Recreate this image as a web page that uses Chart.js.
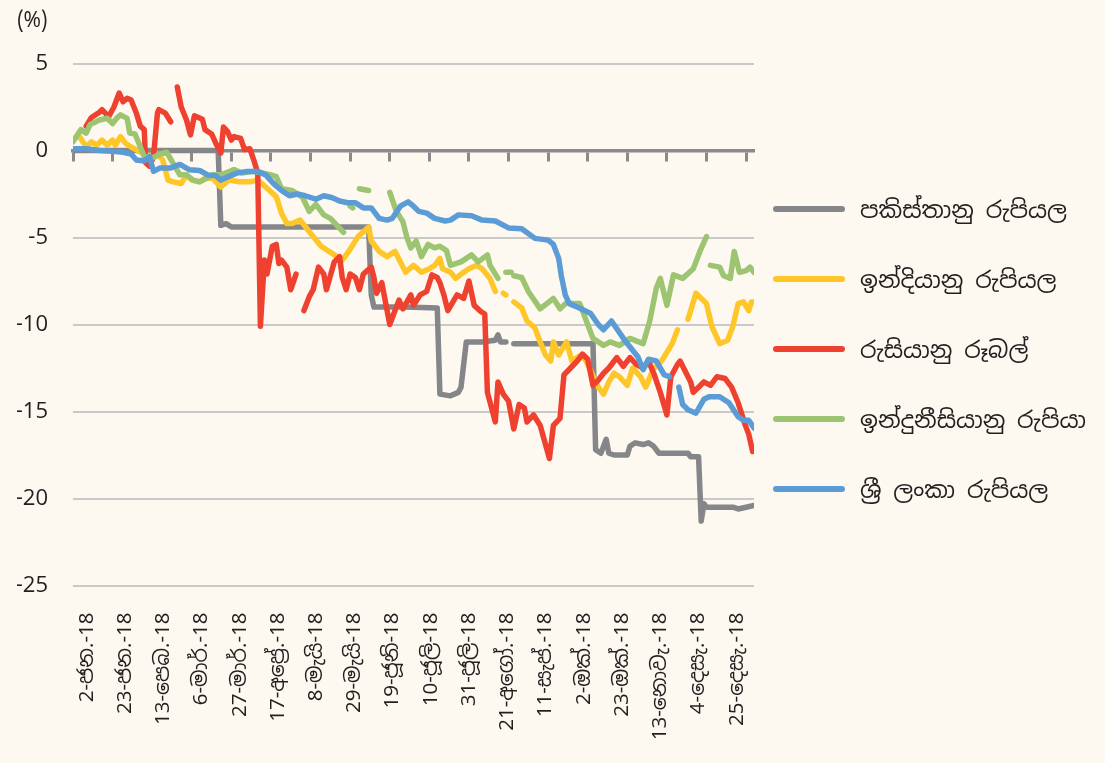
<!DOCTYPE html>
<html>
<head>
<meta charset="utf-8">
<script src="https://cdn.jsdelivr.net/npm/chart.js@4.4.1/dist/chart.umd.min.js"></script>
<style>
  body { margin: 0; background: #fdf9f1; }
  #wrap { position: relative; width: 1105px; height: 763px; background: #fdf9f1; }
  #legend { position: absolute; left: 773px; top: 174px; }
  .item { display: flex; align-items: center; height: 70px; font-size: 23.5px; font-family: "Noto Sans Sinhala", "Noto Sans", sans-serif; color: #231f20; white-space: nowrap; }
  .swatch { width: 72px; height: 6px; border-radius: 3px; margin-right: 15px; }
</style>
</head>
<body>
<div id="wrap"><canvas id="chart"></canvas><div id="legend"></div></div>
<script>
// x = business day index from 2 Jan 2018, y = % change
const tickDays = [0, 15, 30, 45, 60, 75, 90, 105, 120, 135, 150, 165, 180, 195, 210, 225, 240, 255];
const tickLabels = ['2-ජන.-18', '23-ජන.-18', '13-පෙබ.-18', '6-මාර්.-18', '27-මාර්.-18', '17-අප්‍රේ.-18',
  '8-මැයි-18', '29-මැයි-18', '19-ජූනි-18', '10-ජූලි-18', '31-ජූලි-18', '21-අගෝ.-18',
  '11-සැප්.-18', '2-ඔක්.-18', '23-ඔක්.-18', '13-නොවැ.-18', '4-දෙසැ.-18', '25-දෙසැ.-18'];

const seriesNames = ['පකිස්තානු රුපියල', 'ඉන්දියානු රුපියල', 'රුසියානු රූබල්', 'ඉන්දුනීසියානු රුපියා', 'ශ්‍රී ලංකා රුපියල'];

const pkr = [[0,0],[55,0],[56,-4.3],[58,-4.2],[60,-4.4],[80,-4.4],[100,-4.4],[112,-4.4],[113,-8.3],[114,-9.0],[126,-9.0],
  [138,-9.05],[139,-14.0],[143,-14.1],[146,-13.9],[147,-13.6],[149,-11.0],[155,-11.0],[160,-10.9],[161,-10.6],[162,-11.0],
  [164,-11.0],[165,null],[167,-11.1],[180,-11.1],[197,-11.1],[198,-17.2],[200,-17.4],[202,-16.6],[203,-17.4],[205,-17.5],
  [210,-17.5],[211,-17.0],[213,-16.8],[216,-16.9],[218,-16.8],[220,-17.0],[222,-17.4],[233,-17.4],[234,-17.6],[237,-17.6],
  [238,-21.3],[239,-20.3],[240,-20.5],[250,-20.5],[252,-20.6],[255,-20.5],[258,-20.4]];

const inr = [[0,0.6],[2,0.9],[5,0.2],[7,0.5],[9,0.3],[11,0.6],[13,0.3],[15,0.6],[16,0.3],[18,0.8],[20,0.4],[22,0.2],
  [25,-0.05],[29,-0.3],[32,-0.2],[34,-0.55],[36,-1.7],[38,-1.8],[41,-1.9],[43,-1.4],[45,-1.7],[48,-1.8],[50,-1.6],[53,-1.6],
  [56,-2.1],[59,-1.7],[63,-1.8],[67,-1.8],[70,-1.7],[73,-2.1],[77,-2.65],[79,-3.6],[81,-4.2],[83,-4.2],[86,-4.0],[90,-4.75],
  [94,-5.5],[98,-5.9],[102,-6.3],[104,-5.9],[108,-4.95],[112,-4.4],[113,-5.2],[116,-5.8],[119,-6.1],[122,-5.8],[124,-6.4],
  [126,-7.0],[129,-6.6],[132,-7.0],[135,-6.8],[137,-6.6],[139,-6.2],[140,-6.8],[143,-7.0],[145,-7.35],[148,-7.0],[150,-6.8],
  [153,-6.6],[155,-6.8],[158,-7.35],[160,-8.1],[161,null],[163,-8.2],[164,-8.3],[165,null],[167,-8.7],[170,-9.05],[172,-9.8],
  [175,-10.2],[177,-11.0],[179,-11.75],[181,-12.1],[182,-11.0],[184,-11.75],[187,-11.0],[189,-12.1],[192,-11.8],[194,-12.0],
  [195,-12.3],[199,-13.6],[201,-14.0],[203,-13.3],[205,-12.8],[207,-13.0],[210,-13.5],[212,-12.5],[215,-13.0],[217,-13.6],
  [220,-12.5],[222,-12.3],[224,-11.85],[227,-11.1],[229,-10.3],[231,null],[233,-9.7],[236,-8.2],[238,-8.5],[240,-8.8],
  [242,-10.1],[245,-11.1],[248,-10.9],[250,-10.1],[252,-8.8],[254,-8.7],[256,-9.2],[257,-8.7],[258,-8.7]];

const rub = [[5,1.4],[7,1.9],[10,2.2],[11,2.35],[13.5,1.95],[15.5,2.5],[17.5,3.3],[19,2.8],[20.5,3.0],[22,2.9],[24,2.15],
  [25.5,1.4],[27,1.2],[27.5,-0.7],[29,-0.9],[30.5,-0.35],[32,2.15],[32.5,2.35],[35,2.15],[37,1.65],[38,null],[39.5,3.65],
  [41,2.5],[43,1.75],[44.5,0.9],[46,2.0],[49,1.8],[50,1.2],[52.5,0.95],[54,0.45],[56,-0.15],[57,1.35],[58.5,1.1],[60,0.6],
  [61,0.8],[63.5,0.7],[65,0.05],[67,0.1],[68.5,-0.55],[70,-1.3],[71,-10.1],[72.5,-6.3],[73.5,-7.1],[75.5,-5.5],[77,-5.4],
  [78,-6.5],[79,-6.3],[81,-6.7],[82.5,-8.0],[84.5,-7.1],[86,null],[87.5,-9.2],[89.5,-8.4],[91,-8.0],[93,-6.7],[95,-7.1],
  [96,-8.0],[99,-6.4],[101,-6.1],[102,-7.3],[103.5,-8.0],[105,-7.1],[107,-7.3],[108.5,-8.0],[110,-7.1],[113,-6.7],[114,-7.3],
  [115,-8.2],[117,-7.6],[120,-10.0],[121.5,-9.4],[123.5,-8.6],[125,-9.1],[128,-8.3],[129,-8.9],[131.5,-8.3],[134,-8.1],
  [136,-7.15],[138,-7.3],[139,-7.6],[140.5,-8.3],[142,-9.2],[145.5,-8.3],[148,-8.5],[150,-7.5],[152,-8.9],[154.5,-9.25],
  [156,-9.4],[157,-13.9],[160,-15.6],[161,-13.3],[163,-14.0],[165,-14.4],[167,-16.0],[169,-14.6],[171,-14.8],[172,-15.6],
  [174.5,-15.2],[177,-15.8],[180.5,-17.7],[182,-15.8],[184.5,-15.4],[186,-12.9],[188.5,-12.5],[191,-12.1],[193,-11.7],
  [195,-12.0],[197,-13.5],[199,-13.2],[201,-12.8],[203,-12.5],[206,-11.9],[208.5,-12.4],[211,-11.9],[213.5,-12.3],[216,-12.5],
  [218,-12.1],[220,-12.8],[222.5,-13.9],[225,-15.2],[226.5,-13.0],[229,-12.3],[230,-12.1],[234,-13.3],[235,-13.9],[239,-13.3],
  [241.5,-13.5],[244,-13.0],[247,-13.1],[249.5,-13.6],[252,-14.5],[254.5,-15.7],[256,-16.3],[257.5,-17.3]];

const idr = [[0,0.5],[3,1.2],[5,1.0],[6.5,1.5],[10,1.75],[13,1.85],[15,1.55],[16.5,1.85],[18,2.05],[20.5,1.85],[21.5,1.0],
  [23.5,0.95],[25.5,0.2],[27,-0.35],[30.5,-0.4],[33,-0.2],[35.5,-0.1],[38,-0.75],[40.5,-1.4],[43,-1.4],[45.5,-1.7],[48,-1.8],
  [53,-1.4],[56,-1.4],[59.5,-1.2],[61,-1.1],[64,-1.3],[68,-1.2],[72,-1.3],[75,-1.4],[77,-1.5],[79,-2.2],[83,-2.3],[87,-2.7],
  [89.5,-3.5],[92,-3.1],[95,-3.7],[97.5,-3.9],[100,-4.3],[102.5,-4.7],[103.5,null],[105,-3.2],[106,-3.3],[107,null],
  [108.5,-2.2],[112,-2.3],[113,null],[120,-2.4],[122.5,-3.5],[125,-4.1],[126.5,-5.0],[128,-5.6],[130,-5.2],[132,-6.1],
  [134.5,-5.4],[137,-5.6],[139,-5.5],[141.5,-5.75],[143,-6.6],[147,-6.4],[151,-6.0],[153.5,-6.4],[157,-6.0],[158,-6.6],
  [161,-7.35],[162,null],[164,-7.0],[166,-7.0],[166.5,null],[167,-7.2],[170,-7.3],[172.5,-8.1],[177,-9.1],[179.5,-8.8],
  [182,-8.5],[184.5,-9.1],[187,-8.75],[190,-8.8],[192,-8.8],[194.5,-9.8],[197,-10.8],[201,-11.2],[203.5,-11.0],[207,-11.2],
  [211,-10.8],[216,-11.1],[218.5,-9.8],[221,-7.9],[222.5,-7.35],[225,-8.9],[227.5,-7.15],[231,-7.35],[235,-6.8],[237.5,-5.8],
  [240,-4.95],[240.5,null],[241.5,-6.6],[245,-6.7],[246.5,-7.2],[249,-7.35],[250.5,-5.8],[252.5,-7.0],[255,-6.9],[256.5,-6.7],
  [258,-7.0]];

const lkr = [[0,0.1],[5,0.1],[10,0.0],[15,-0.05],[19,-0.1],[22,-0.2],[24,-0.55],[27,-0.6],[29,-0.35],[30.5,-1.2],[33,-1.0],
  [37,-1.0],[40.5,-0.8],[44,-1.1],[48,-1.15],[51,-1.4],[54,-1.45],[56,-1.7],[59,-1.5],[62,-1.3],[66,-1.2],[70,-1.2],[73,-1.4],
  [76,-1.9],[79,-2.3],[82,-2.6],[85,-2.5],[88,-2.6],[92,-2.8],[95,-2.6],[98,-2.7],[101,-2.9],[104,-3.0],[107,-3.0],[110,-3.3],
  [113,-3.3],[116,-3.9],[119,-4.0],[121,-3.9],[124,-3.2],[127,-2.95],[129,-3.2],[131,-3.5],[134,-3.6],[137,-3.9],[141,-4.05],
  [143,-4.0],[146,-3.7],[151,-3.75],[155,-4.0],[160,-4.05],[165,-4.45],[170,-4.5],[175,-5.05],[180,-5.15],[182,-5.4],
  [184,-6.2],[185,-7.2],[186.5,-8.3],[188,-8.8],[191,-9.0],[196,-9.35],[199,-10.0],[201,-10.3],[204,-9.8],[209,-10.9],
  [214,-11.85],[216,-12.6],[218,-12.0],[221,-12.1],[224,-12.9],[226,-13.0],[227,null],[229.5,-13.6],[231,-14.6],[233,-14.9],
  [236,-15.1],[239,-14.3],[241,-14.15],[245,-14.15],[248.5,-14.5],[252,-15.3],[254,-15.5],[256,-15.5],[258,-15.95]];

const allSeries = [pkr, inr, rub, idr, lkr];
const colors = ['#858689', '#ffc629', '#ef4130', '#9dc470', '#5b9bd6'];
const textColor = '#231f20';
const fontFamily = '"Noto Sans Sinhala", "Noto Sans", sans-serif';

const datasets = allSeries.map((s, i) => ({
  label: seriesNames[i],
  data: s,
  xAxisID: 'xData',
  borderColor: colors[i],
  backgroundColor: colors[i],
  borderWidth: 5.5,
  borderCapStyle: 'round',
  borderJoinStyle: 'round',
  pointRadius: 0,
  tension: 0,
  spanGaps: false,
  order: allSeries.length - i   // later series on top, like the original
}));

const setTicks = scale => { scale.ticks = tickDays.map(v => ({ value: v })); };

const ctx = document.getElementById('chart').getContext('2d');
const chart = new Chart(ctx, {
  type: 'line',
  data: { datasets: datasets },
  options: {
    responsive: true,
    maintainAspectRatio: false,
    animation: false,
    layout: { padding: { left: 17, right: 351, top: 0, bottom: 0 } },
    plugins: {
      legend: { display: false },
      tooltip: { enabled: false },
      title: {
        display: true, text: '(%)', align: 'start', color: textColor,
        font: { family: fontFamily, size: 21, weight: 'normal', lineHeight: 1.2 },
        padding: { top: 9, bottom: 29.3 }
      }
    },
    scales: {
      // date labels sit a little inside the tick marks in the original
      x: {
        type: 'linear', min: -5.5, max: 261.7, position: 'bottom',
        afterBuildTicks: setTicks,
        afterFit: s => { s.height = 177.5; },
        grid: { display: false },
        border: { display: false },
        ticks: {
          autoSkip: false, minRotation: 90, maxRotation: 90, padding: 19,
          color: textColor, font: { family: fontFamily, size: 20.5 },
          callback: (v, i) => tickLabels[i]
        }
      },
      xData: {
        type: 'linear', min: 0, max: 258, position: { y: 0 },
        afterBuildTicks: setTicks,
        grid: { drawOnChartArea: false, drawTicks: true, tickLength: 9, tickWidth: 3, tickColor: '#8a8a8c' },
        border: { display: true, color: '#8a8a8c', width: 3.5 },
        ticks: { display: false }
      },
      y: {
        min: -25, max: 5,
        afterFit: s => { s.width = 56; },
        ticks: { stepSize: 5, padding: 25, color: textColor, font: { family: fontFamily, size: 22 } },
        grid: { color: c => c.tick.value === 0 ? 'rgba(0,0,0,0)' : '#c9c9c9', lineWidth: 2, drawTicks: false },
        border: { display: false }
      }
    }
  }
});

// legend built from the chart's datasets
const legendEl = document.getElementById('legend');
chart.data.datasets.forEach(ds => {
  const item = document.createElement('div');
  item.className = 'item';
  const sw = document.createElement('span');
  sw.className = 'swatch';
  sw.style.background = ds.borderColor;
  const txt = document.createElement('span');
  txt.textContent = ds.label;
  item.appendChild(sw);
  item.appendChild(txt);
  legendEl.appendChild(item);
});
</script>
</body>
</html>
